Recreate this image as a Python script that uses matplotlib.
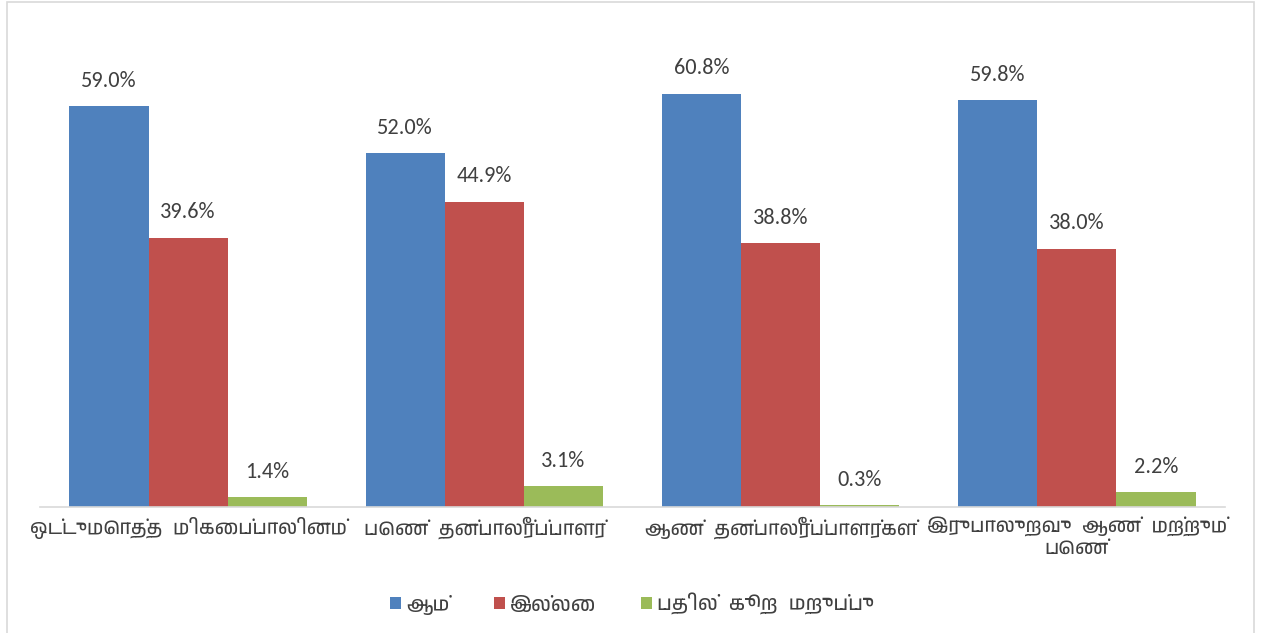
"""Grouped bar chart: survey responses by group (Tamil labels)."""

import matplotlib
matplotlib.use("Agg")
import matplotlib.pyplot as plt
from matplotlib import font_manager
from matplotlib.ft2font import FT2Font
from matplotlib.patches import Rectangle
import numpy as np

CATEGORIES = [
    "ஒட்டுமொத்த  மிகைப்பாலினம்",
    "பெண்  தன்பாலீர்ப்பாளர்",
    "ஆண்  தன்பாலீர்ப்பாளர்கள்",
    "இருபாலுறவு  ஆண்  மற்றும்\nபெண்",
]
SERIES = ["ஆம்", "இல்லை", "பதில்  கூற  மறுப்பு"]
YES = [59.0, 52.0, 60.8, 59.8]
NO = [39.6, 44.9, 38.8, 38.0]
DECLINED = [1.4, 3.1, 0.3, 2.2]

COLOURS = ["#4F81BD", "#C0504D", "#9BBB59"]
TEXT = "#404040"


def find_tamil_font():
    for f in font_manager.fontManager.ttflist:
        if "tamil" in f.name.lower():
            return f.name
    for f in font_manager.fontManager.ttflist:
        try:
            if 0x0B95 in FT2Font(f.fname).get_charmap():
                return f.name
        except Exception:
            continue
    return None


tamil = find_tamil_font()
families = ([tamil] if tamil else []) + ["DejaVu Sans"]

fig = plt.figure(figsize=(12.64, 6.33), dpi=100)
ax = fig.add_axes([40 / 1264, 1 - 507 / 633, 1185 / 1264, 476 / 633])

# outer chart border
fig.patches.append(Rectangle((7 / 1264, -0.01), 1247 / 1264, 1 - 2 / 633 + 0.01,
                             transform=fig.transFigure, fill=False,
                             edgecolor="#D9D9D9", linewidth=1.2))

x = np.arange(len(CATEGORIES))
width = 0.267
for i, (vals, col, name) in enumerate(zip([YES, NO, DECLINED], COLOURS, SERIES)):
    bars = ax.bar(x + (i - 1) * width, vals, width, color=col, label=name)
    for b, v in zip(bars, vals):
        ax.annotate(f"{v:.1f}%", (b.get_x() + b.get_width() / 2, v),
                    xytext=(0, 11), textcoords="offset points",
                    ha="center", va="bottom", fontsize=16, color=TEXT,
                    family=["Calibri", "Carlito", "DejaVu Sans"])

ax.set_xlim(-0.5, len(CATEGORIES) - 0.5)
ax.set_ylim(0, 70)
ax.set_yticks([])
ax.set_xticks(x)
ax.set_xticklabels(CATEGORIES, fontsize=14, color=TEXT, family=families,
                   linespacing=1.35)
ax.tick_params(axis="x", length=0, pad=7)
for side in ["top", "right", "left"]:
    ax.spines[side].set_visible(False)
ax.spines["bottom"].set_color("#D9D9D9")
ax.spines["bottom"].set_linewidth(1.2)

leg = fig.legend(loc="center", bbox_to_anchor=(632 / 1264, 1 - 604 / 633),
                 ncol=3, frameon=False, handlelength=0.55, handleheight=0.55,
                 handletextpad=0.25, columnspacing=2.2,
                 prop={"family": families, "size": 14.5})
for t in leg.get_texts():
    t.set_color(TEXT)

fig.savefig("out.png", dpi=100)
plt.close(fig)
